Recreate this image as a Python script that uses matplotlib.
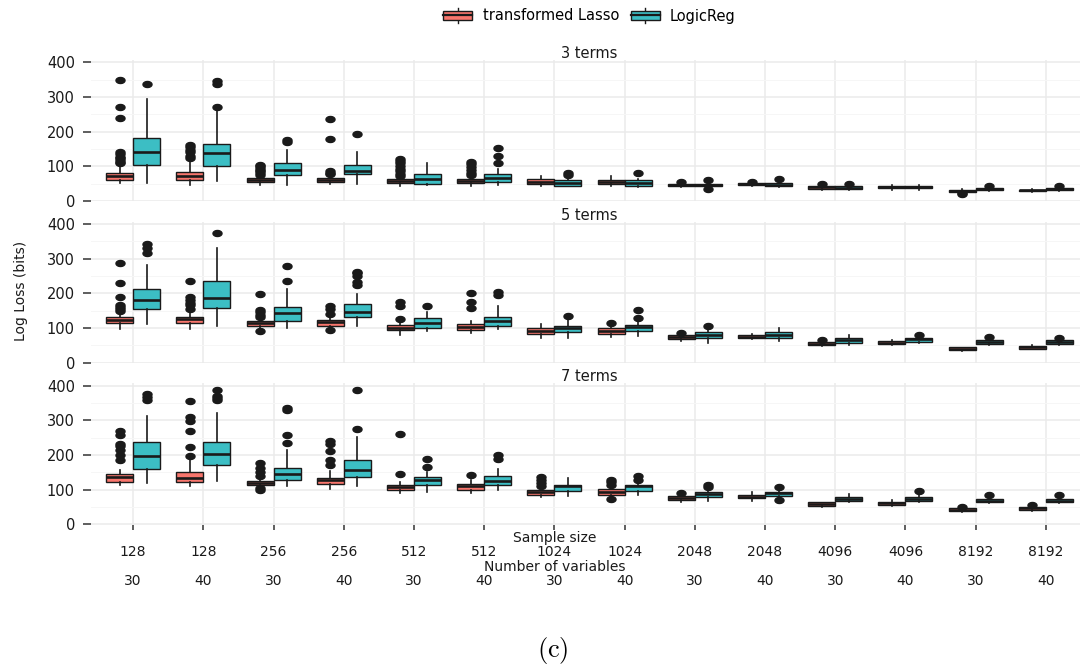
import numpy as np
import matplotlib
matplotlib.use("Agg")
import matplotlib.pyplot as plt
from matplotlib.path import Path
from matplotlib.patches import Rectangle, Patch
from matplotlib.lines import Line2D
from matplotlib.legend_handler import HandlerBase
from matplotlib.transforms import blended_transform_factory

# ---------------- data ----------------
panel_titles = ["3 terms", "5 terms", "7 terms"]
method_names = ["transformed Lasso", "LogicReg"]
sample_sizes = [128, 128, 256, 256, 512, 512, 1024, 1024, 2048, 2048, 4096, 4096, 8192, 8192]
n_variables = [30, 40, 30, 40, 30, 40, 30, 40, 30, 40, 30, 40, 30, 40]

# 3 terms - transformed Lasso
lasso3_q1 = [60, 60, 55, 56, 52, 52, 49, 48, 43, 45, 35, 36, 26, 29]
lasso3_med = [72, 73, 60, 60, 57, 57, 56, 54, 46, 48, 39, 39, 29, 31]
lasso3_q3 = [80, 83, 66, 65, 63, 62, 63, 60, 49, 51, 43, 42, 32, 33]
lasso3_lo = [51, 47, 46, 48, 44, 44, 43, 43, 40, 42, 32, 33, 24, 27]
lasso3_hi = [100, 113, 72, 72, 68, 68, 73, 71, 52, 53, 45, 45, 34, 35]
lasso3_out = [[108, 113, 118, 123, 128, 135, 142, 239, 271, 350], [124, 130, 140, 148, 155, 162],
              [76, 80, 85, 90, 95, 100, 105], [78, 82, 86, 180, 237],
              [72, 78, 85, 92, 100, 108, 115, 122], [75, 82, 90, 98, 106, 112],
              [], [], [56], [55], [48], [], [20, 23], []]
# 3 terms - LogicReg
logic3_q1 = [105, 100, 75, 77, 50, 56, 44, 44, 42, 43, 34, 36, 32, 31]
logic3_med = [141, 137, 90, 86, 62, 66, 52, 52, 46, 47, 38, 40, 35, 34]
logic3_q3 = [181, 165, 108, 104, 77, 77, 60, 60, 50, 51, 43, 43, 38, 37]
logic3_lo = [53, 57, 46, 48, 45, 45, 42, 40, 38, 41, 31, 33, 29, 29]
logic3_hi = [293, 262, 147, 142, 108, 92, 64, 64, 54, 54, 46, 47, 40, 39]
logic3_out = [[336], [270, 336, 345], [170, 176], [193], [], [108, 130, 152],
              [76, 82], [80], [35, 61], [62], [50], [], [42], [44]]

# 5 terms - transformed Lasso
lasso5_q1 = [114, 114, 106, 107, 94, 94, 82, 84, 67, 70, 50, 53, 36, 40]
lasso5_med = [124, 126, 113, 116, 100, 103, 92, 91, 73, 74, 55, 58, 40, 44]
lasso5_q3 = [133, 133, 120, 123, 108, 111, 99, 99, 79, 79, 60, 63, 44, 49]
lasso5_lo = [97, 97, 98, 100, 79, 86, 71, 74, 62, 68, 47, 50, 34, 38]
lasso5_hi = [143, 145, 128, 130, 113, 121, 111, 108, 82, 83, 63, 65, 46, 50]
lasso5_out = [[150, 155, 160, 165, 189, 229, 288], [155, 165, 172, 180, 188, 236],
              [91, 132, 138, 145, 152, 197], [93, 140, 155, 162],
              [125, 163, 176], [159, 176, 202], [], [113], [86], [], [65], [], [], []]
# 5 terms - LogicReg
logic5_q1 = [154, 157, 121, 133, 100, 106, 89, 91, 70, 72, 57, 60, 55, 55]
logic5_med = [182, 185, 142, 147, 115, 120, 99, 103, 79, 80, 65, 67, 60, 60]
logic5_q3 = [213, 234, 160, 168, 128, 132, 105, 108, 87, 87, 71, 71, 65, 65]
logic5_lo = [111, 107, 101, 106, 92, 97, 72, 76, 58, 63, 52, 56, 52, 52]
logic5_hi = [282, 330, 212, 198, 145, 164, 123, 120, 95, 99, 79, 75, 68, 68]
logic5_out = [[316, 330, 342], [375], [236, 280], [225, 232, 250, 258, 262], [163], [195, 205],
              [134], [130, 152], [105], [], [], [81], [74], [72]]

# 7 terms - transformed Lasso
lasso7_q1 = [121, 122, 114, 116, 99, 99, 85, 85, 70, 75, 53, 56, 37, 41]
lasso7_med = [135, 133, 119, 129, 107, 109, 92, 93, 76, 80, 58, 61, 41, 46]
lasso7_q3 = [146, 150, 124, 133, 113, 115, 99, 101, 82, 85, 63, 65, 46, 51]
lasso7_lo = [112, 109, 108, 103, 89, 89, 80, 78, 63, 68, 51, 52, 35, 39]
lasso7_hi = [157, 184, 132, 153, 123, 128, 105, 108, 86, 92, 65, 69, 48, 52]
lasso7_out = [[184, 200, 215, 226, 232, 257, 268], [198, 222, 270, 299, 308, 354],
              [98, 104, 138, 150, 162, 177], [172, 184, 212, 232, 241],
              [145, 261], [142], [109, 118, 128, 136], [72, 113, 123, 128],
              [91], [], [], [], [51], [55]]
# 7 terms - LogicReg
logic7_q1 = [159, 171, 127, 135, 113, 112, 97, 97, 80, 82, 68, 68, 63, 63]
logic7_med = [198, 203, 145, 155, 128, 126, 109, 109, 88, 89, 74, 74, 68, 68]
logic7_q3 = [238, 238, 163, 186, 135, 139, 113, 113, 94, 94, 80, 80, 73, 73]
logic7_lo = [119, 124, 109, 109, 94, 99, 82, 85, 68, 75, 63, 64, 60, 60]
logic7_hi = [313, 322, 215, 251, 150, 160, 133, 122, 100, 100, 86, 84, 76, 76]
logic7_out = [[359, 367, 376], [359, 364, 371, 388], [234, 256, 330, 334], [275, 386],
              [166, 187], [188, 200], [], [128, 139], [107, 113], [70, 107],
              [], [96], [85], [83]]

panel_data = [
    ((lasso3_q1, lasso3_med, lasso3_q3, lasso3_lo, lasso3_hi, lasso3_out),
     (logic3_q1, logic3_med, logic3_q3, logic3_lo, logic3_hi, logic3_out)),
    ((lasso5_q1, lasso5_med, lasso5_q3, lasso5_lo, lasso5_hi, lasso5_out),
     (logic5_q1, logic5_med, logic5_q3, logic5_lo, logic5_hi, logic5_out)),
    ((lasso7_q1, lasso7_med, lasso7_q3, lasso7_lo, lasso7_hi, lasso7_out),
     (logic7_q1, logic7_med, logic7_q3, logic7_lo, logic7_hi, logic7_out)),
]

# ---------------- style ----------------
colors = ["#F8766D", "#3CBEC4"]
edge = "#1a1a1a"
grid_major = "#EBEBEB"
grid_minor = "#F6F6F6"
FS = 10.5
FSX = 10

theta = np.linspace(0, 2 * np.pi, 48)
ellipse = Path(np.column_stack([1.5 * np.cos(theta), np.sin(theta)]), closed=True)

W, H = 1080, 668
fig = plt.figure(figsize=(W / 100, H / 100), dpi=100)

left_px, right_px = 91, 1088
panel_h_px = 141.5
bottoms_px = [201.3, 363.0, 524.6]
positions = np.arange(1, len(sample_sizes) + 1)
offset, bw = 0.1925, 0.385

axes = []
for i, title in enumerate(panel_titles):
    b = 1 - bottoms_px[i] / H
    ax = fig.add_axes([left_px / W, b, (right_px - left_px) / W, panel_h_px / H])
    axes.append(ax)
    ax.set_xlim(0.4, 14.6)
    ax.set_ylim(-1, 407)
    for s in ax.spines.values():
        s.set_visible(False)
    ax.set_yticks([0, 100, 200, 300, 400])
    ax.set_yticks([50, 150, 250, 350], minor=True)
    ax.set_xticks(positions)
    ax.grid(which="major", color=grid_major, lw=1.1)
    ax.grid(which="minor", axis="y", color=grid_minor, lw=0.7)
    ax.set_axisbelow(True)
    ax.tick_params(axis="y", which="major", direction="out", length=5.8, width=1.1,
                   color="#333333", pad=5.8, labelsize=FS, labelcolor="#1a1a1a")
    ax.tick_params(axis="y", which="minor", length=0)
    if i == 2:
        ax.tick_params(axis="x", direction="out", length=3.6, width=1.1,
                       color="#333333", labelbottom=False)
    else:
        ax.tick_params(axis="x", length=0, labelbottom=False)

    for m, (q1, med, q3, lo, hi, out) in enumerate(panel_data[i]):
        stats = [dict(q1=q1[k], med=med[k], q3=q3[k], whislo=lo[k], whishi=hi[k],
                      fliers=out[k]) for k in range(len(sample_sizes))]
        pos = positions + (-offset if m == 0 else offset)
        ax.bxp(stats, positions=pos, widths=bw, patch_artist=True, showcaps=False,
               manage_ticks=False,
               boxprops=dict(facecolor=colors[m], edgecolor=edge, linewidth=1.0),
               medianprops=dict(color=edge, linewidth=1.9, solid_capstyle="butt"),
               whiskerprops=dict(color=edge, linewidth=1.2),
               flierprops=dict(marker=ellipse, markersize=6.5, markerfacecolor=edge,
                               markeredgecolor=edge, linestyle="none"))

    ax.text(0.5, 1.014, title, transform=ax.transAxes, ha="center", va="baseline",
            fontsize=FS, color="#1a1a1a")

# x-axis annotation rows on the bottom panel
axb = axes[2]
tr = blended_transform_factory(axb.transData, fig.transFigure)
mid = positions[6]
row_base = [542.3, 556.5, 570.7, 584.9]
axb.text(mid, 1 - row_base[0] / H, "Sample size", transform=tr, ha="center",
         va="baseline", fontsize=FSX, color="#1a1a1a")
axb.text(mid, 1 - row_base[2] / H, "Number of variables", transform=tr, ha="center",
         va="baseline", fontsize=FSX, color="#1a1a1a")
for p, ss, nv in zip(positions, sample_sizes, n_variables):
    axb.text(p, 1 - row_base[1] / H, str(ss), transform=tr, ha="center", va="baseline",
             fontsize=FSX, color="#1a1a1a")
    axb.text(p, 1 - row_base[3] / H, str(nv), transform=tr, ha="center", va="baseline",
             fontsize=FSX, color="#1a1a1a")

# y label
fig.text(21.5 / W, 1 - 291 / H, "Log Loss (bits)", rotation=90, ha="center", va="center",
         fontsize=10, color="#1a1a1a")


# legend with boxplot glyphs
class BoxHandler(HandlerBase):
    def create_artists(self, legend, orig_handle, xdescent, ydescent, width, height,
                       fontsize, trans):
        fc = orig_handle.get_facecolor()
        x0, y0 = -xdescent, -ydescent
        rect = Rectangle((x0, y0 + 0.1 * height), width, 0.8 * height, facecolor=fc,
                         edgecolor=edge, lw=1.0, transform=trans)
        medl = Line2D([x0, x0 + width], [y0 + 0.5 * height] * 2, color=edge, lw=1.6,
                      transform=trans)
        wt = Line2D([x0 + width / 2] * 2, [y0 + 0.9 * height, y0 + 1.2 * height],
                    color=edge, lw=1.0, transform=trans)
        wb = Line2D([x0 + width / 2] * 2, [y0 - 0.2 * height, y0 + 0.1 * height],
                    color=edge, lw=1.0, transform=trans)
        return [wt, wb, rect, medl]


handles = [Patch(facecolor=c, edgecolor=edge) for c in colors]
fig.legend(handles, method_names, handler_map={Patch: BoxHandler()}, ncol=2,
           loc="center", bbox_to_anchor=((left_px + right_px) / 2 / W, 1 - 16 / H),
           frameon=False, fontsize=FS, handlelength=2.0, handleheight=0.8,
           handletextpad=0.7, columnspacing=0.8, borderpad=0)

# caption
plt.rcParams["mathtext.fontset"] = "cm"
fig.text(553 / W, 1 - 651 / H, r"$\mathrm{(c)}$", ha="center", va="center", fontsize=19)

fig.savefig("out.png", dpi=100)
